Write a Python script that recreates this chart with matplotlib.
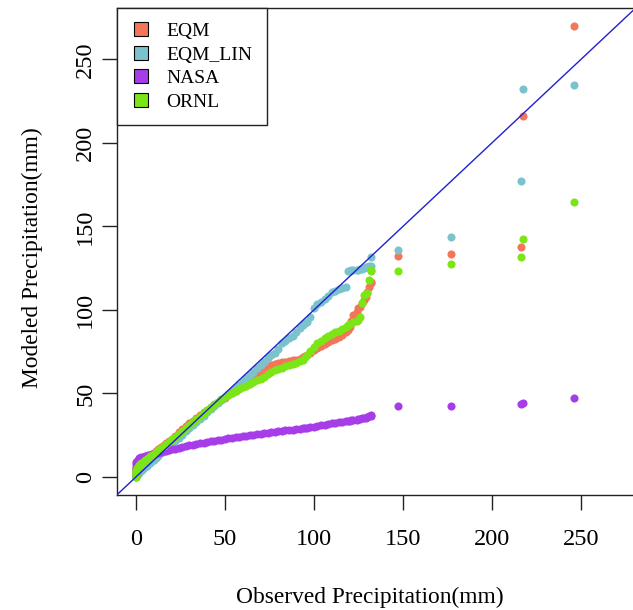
import matplotlib
matplotlib.use("Agg")
import matplotlib.pyplot as plt
from matplotlib.lines import Line2D

plt.rcParams['font.family'] = ['Liberation Serif', 'DejaVu Serif']

# observed quantiles (mm), shared by every model
observed = [
    0, 0, 0, 0, 0, 0.3, 0.6, 1, 1.5, 2,
    2.5, 3, 4, 5, 6, 7, 8, 9, 10, 11,
    12.5, 14, 15.5, 17, 18.5, 20, 22, 24, 26, 28,
    30, 32, 34, 36, 38, 40, 42, 44, 46, 48,
    50, 52, 54, 56, 58, 60, 62, 64, 66, 68,
    70, 72, 74, 76, 78, 80, 82, 84, 86, 88,
    90, 92, 94, 95, 96, 98, 100, 102, 104, 106,
    108, 110, 112, 114, 116, 118, 119, 120, 121, 122,
    124, 125, 126, 127, 128, 129, 130, 131, 132, 132,
    147, 176.8, 216.5, 217.5, 246.3,
]

# modeled quantiles (mm)
eqm = [
    0.5, 1.5, 2.5, 3.5, 4.5, 5.2, 5.8, 6.5, 7.2, 7.8,
    8.3, 8.8, 9.7, 10.6, 11.4, 12.2, 13.0, 13.8, 14.6, 15.4,
    16.6, 17.8, 19.0, 20.3, 21.6, 23.0, 24.8, 26.7, 28.6, 30.4,
    32.1, 33.8, 35.4, 37.0, 38.6, 40.2, 41.7, 43.2, 44.6, 46.0,
    47.4, 48.8, 50.2, 51.6, 53.0, 54.5, 56.0, 57.6, 59.3, 61.0,
    62.8, 64.5, 66.0, 67.0, 67.8, 68.3, 68.7, 69.0, 69.4, 69.8,
    70.2, 70.8, 71.6, 72.3, 73.0, 74.5, 75.8, 77.0, 78.3, 79.6,
    80.8, 81.8, 82.8, 83.8, 85.0, 86.5, 87.8, 90.0, 93.5, 97.0,
    99.0, 101.0, 102.0, 104.0, 106.0, 108.0, 110.9, 113.5, 116.3, 116.8,
    132.3, 133.3, 137.9, 216.2, 270.0,
]

eqm_lin = [
    0.0, 0.0, 0.3, 0.6, 1.0, 1.3, 1.6, 2.0, 2.4, 2.8,
    3.3, 3.8, 4.8, 5.8, 6.8, 7.7, 8.6, 9.5, 10.4, 11.3,
    12.7, 14.1, 15.5, 16.9, 18.3, 19.7, 21.6, 23.5, 25.4, 27.3,
    29.2, 31.1, 33.0, 34.9, 36.8, 38.7, 40.5, 42.3, 44.1, 45.9,
    47.7, 49.5, 51.3, 53.2, 55.1, 57.0, 59.0, 61.0, 63.0, 65.0,
    67.0, 69.0, 71.0, 72.8, 74.5, 76.5, 80.0, 81.5, 83.0, 84.5,
    86.5, 89.0, 91.0, 92.0, 93.0, 96.0, 101.0, 103.5, 105.0, 106.5,
    108.5, 110.5, 111.5, 112.5, 113.2, 114.0, 123.5, 123.6, 123.7, 123.8,
    124.0, 124.1, 124.3, 124.5, 125.0, 125.5, 126.0, 126.3, 126.5, 131.9,
    135.9, 143.9, 177.0, 232.3, 234.9,
]

nasa = [
    0.5, 2.0, 4.0, 6.0, 8.0, 9.0, 9.8, 10.3, 10.8, 11.2,
    11.5, 11.8, 12.2, 12.5, 12.8, 13.0, 13.3, 13.6, 13.9, 14.2,
    14.5, 14.9, 15.3, 15.7, 16.1, 16.5, 17.0, 17.5, 18.0, 18.5,
    19.0, 19.4, 19.8, 20.2, 20.6, 21.0, 21.3, 21.7, 22.1, 22.4,
    22.8, 23.1, 23.4, 23.7, 24.0, 24.4, 24.7, 25.0, 25.3, 25.6,
    25.9, 26.3, 26.6, 26.9, 27.2, 27.5, 27.8, 28.0, 28.2, 28.4,
    28.6, 28.8, 29.1, 29.3, 29.5, 29.8, 30.1, 30.5, 31.0, 31.4,
    31.8, 32.1, 32.4, 32.7, 33.0, 33.3, 33.5, 33.7, 33.9, 34.1,
    34.4, 34.6, 34.9, 35.1, 35.4, 35.6, 35.9, 36.3, 36.7, 37.2,
    42.3, 42.7, 43.5, 44.5, 47.5,
]

ornl = [
    0.0, 1.0, 2.0, 3.0, 3.8, 4.4, 5.2, 6.0, 6.7, 7.3,
    7.8, 8.3, 9.2, 10.0, 10.8, 11.6, 12.4, 13.2, 14.0, 14.8,
    16.0, 17.3, 18.6, 19.9, 21.2, 22.5, 24.2, 25.9, 27.6, 29.3,
    31.0, 32.8, 34.6, 36.4, 38.2, 40.0, 41.8, 43.5, 45.0, 46.5,
    47.8, 49.0, 50.2, 51.3, 52.5, 53.6, 54.7, 55.8, 56.8, 57.8,
    58.8, 60.0, 61.5, 62.8, 64.0, 64.8, 65.5, 66.3, 67.0, 67.8,
    68.5, 69.3, 70.0, 72.0, 73.0, 75.5, 78.0, 80.0, 81.5, 83.0,
    84.5, 85.5, 86.5, 87.5, 88.5, 90.0, 91.0, 91.5, 92.0, 93.0,
    93.5, 94.0, 96.0, 104.0, 109.0, 109.5, 110.0, 118.0, 123.5, 124.0,
    123.5, 127.7, 131.5, 142.3, 164.5,
]

series = ["EQM", "EQM_LIN", "NASA", "ORNL"]
colors = ["#F4765A", "#7AC3CC", "#A63DE8", "#7BE516"]
values = [eqm, eqm_lin, nasa, ornl]

fig = plt.figure(figsize=(6.33, 6.10), dpi=100)
ax = fig.add_axes([116.7 / 633, 115 / 610, 519 / 633, 487 / 610])

for name, col, vals in zip(series, colors, values):
    ax.scatter(observed, vals, s=34, color=col, linewidths=0, zorder=2)

lim = (-10.8, 280.8)
ax.plot(lim, lim, color="#2020D0", lw=1.0, zorder=3)
ax.set_xlim(lim)
ax.set_ylim(lim)

ticks = [0, 50, 100, 150, 200, 250]
ax.set_xticks(ticks)
ax.set_yticks(ticks)
ax.tick_params(direction="out", length=10.8, width=1.0, labelsize=17.5, color="#222222")
ax.tick_params(axis="x", pad=14)
ax.tick_params(axis="y", pad=4, labelrotation=90)
for lab in ax.get_yticklabels():
    lab.set_va("center")
for sp in ax.spines.values():
    sp.set_linewidth(1.0)
    sp.set_color("#222222")

fig.text(370 / 633, 1 - 597 / 610, "Observed Precipitation(mm)", ha="center", va="center", fontsize=16.8)
fig.text(32 / 633, 1 - 258 / 610, "Modeled Precipitation(mm)", ha="center", va="center",
         rotation=90, fontsize=16.8)

handles = [Line2D([], [], marker="s", linestyle="none", markersize=10,
                  markerfacecolor=c, markeredgecolor="black", markeredgewidth=0.8)
           for c in colors]
leg = ax.legend(handles, series, loc="upper left", bbox_to_anchor=(0, 1), borderaxespad=0,
                fontsize=14, borderpad=0.75, handlelength=1.0, handletextpad=0.8,
                labelspacing=0.3, fancybox=False, framealpha=1, edgecolor="#222222")
leg.get_frame().set_linewidth(1.0)

fig.savefig("out.png", dpi=100)
